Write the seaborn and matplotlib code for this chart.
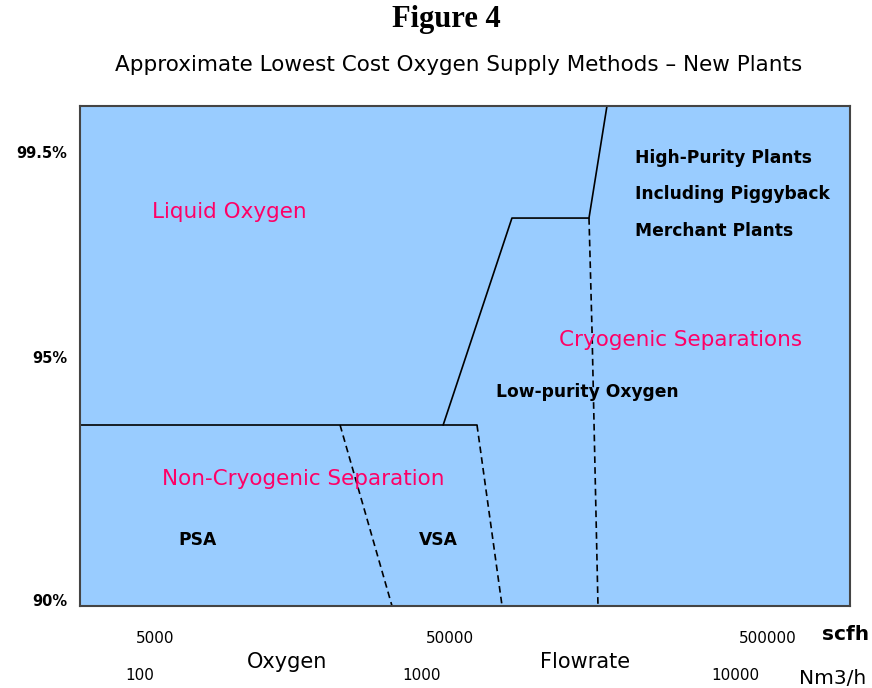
import numpy as np
import pandas as pd
import seaborn as sns
import matplotlib.pyplot as plt

# boundary lines of the regions (x = oxygen flow in scfh, y = purity %)
solid_psa_top_x = [2786, 60800]
solid_psa_top_y = [93.6, 93.6]
solid_lox_x = [47400, 78300, 136800, 155800]
solid_lox_y = [93.6, 98.05, 98.05, 100.6]
dash_psa_x = [21200, 31800]
dash_psa_y = [93.6, 89.8]
dash_vsa_x = [60800, 72900]
dash_vsa_y = [93.6, 89.8]
dash_cryo_x = [136800, 139800, 146000]
dash_cryo_y = [98.05, 95.6, 89.8]

purity_ticks = [90, 95, 99.5]
purity_labels = ['90%', '95%', '99.5%']
scfh_ticks = [5000, 50000, 500000]
scfh_labels = ['5000', '50000', '500000']
nm3_labels = ['100', '1000', '10000']

# schematic (uneven) axes, as in the original sketch
y_anchor = [89.88, 90, 95, 99.5, 100.51]
y_pos = [0, 6, 249, 454, 500]
x_anchor = [3.445, 3.699, 4.699, 5.699, 5.957]
x_pos = [0, 75, 370, 688, 770]


def yfwd(y):
    return np.interp(y, y_anchor, y_pos)


def yinv(p):
    return np.interp(p, y_pos, y_anchor)


def xfwd(x):
    return np.interp(np.log10(np.clip(x, 1e-9, None)), x_anchor, x_pos)


def xinv(p):
    return 10 ** np.interp(p, x_pos, x_anchor)


sns.set_theme(style='white')
plt.rcParams['font.family'] = ['DejaVu Sans']
plt.rcParams['text.color'] = 'black'
plt.rcParams['xtick.color'] = 'black'
plt.rcParams['ytick.color'] = 'black'

fig = plt.figure(figsize=(8.72, 6.88), dpi=100)
ax = fig.add_axes([80 / 872, 1 - 606 / 688, 770 / 872, 500 / 688])
ax.set_facecolor('#99CCFF')
ax.set_xscale('function', functions=(xfwd, xinv))
ax.set_yscale('function', functions=(yfwd, yinv))

lines = [
    (solid_psa_top_x, solid_psa_top_y, '-'),
    (solid_lox_x, solid_lox_y, '-'),
    (dash_psa_x, dash_psa_y, '--'),
    (dash_vsa_x, dash_vsa_y, '--'),
    (dash_cryo_x, dash_cryo_y, '--'),
]
for xs, ys, ls in lines:
    df = pd.DataFrame({'x': xs, 'y': ys})
    sns.lineplot(data=df, x='x', y='y', sort=False, color='black',
                 linewidth=1.2, linestyle=ls, ax=ax)
    if ls == '--':
        ax.lines[-1].set_dashes((4, 2.5))

ax.set_xlim(2786, 905700)
ax.set_ylim(89.88, 100.51)

for sp in ax.spines.values():
    sp.set_color('#444444')
    sp.set_linewidth(1.5)

ax.set_yticks(purity_ticks)
ax.set_yticklabels(purity_labels, fontsize=10.5, fontweight='bold')
ax.tick_params(axis='y', length=0, pad=9)
ax.set_xticks(scfh_ticks)
ax.set_xticklabels(scfh_labels, fontsize=11)
ax.tick_params(axis='x', length=0, pad=18)
ax.minorticks_off()
ax.set_xlabel('')
ax.set_ylabel('')


def fx(px):
    return (px - 80) / 770


def fy(py):
    return (606 - py) / 500


pink = '#FF0066'
ax.text(fx(229), fy(212), 'Liquid Oxygen', color=pink, fontsize=15.5,
        ha='center', va='center', transform=ax.transAxes)
ax.text(fx(681), fy(340), 'Cryogenic Separations', color=pink, fontsize=15.5,
        ha='center', va='center', transform=ax.transAxes)
ax.text(fx(303), fy(479), 'Non-Cryogenic Separation', color=pink, fontsize=15.5,
        ha='center', va='center', transform=ax.transAxes)
ax.text(fx(197), fy(540), 'PSA', fontsize=12.3, fontweight='bold',
        ha='center', va='center', transform=ax.transAxes)
ax.text(fx(438), fy(540), 'VSA', fontsize=12.3, fontweight='bold',
        ha='center', va='center', transform=ax.transAxes)
ax.text(fx(587), fy(392), 'Low-purity Oxygen', fontsize=12.3, fontweight='bold',
        ha='center', va='center', transform=ax.transAxes)
for txt, py in [('High-Purity Plants', 158), ('Including Piggyback', 194),
                ('Merchant Plants', 231)]:
    ax.text(fx(635), fy(py), txt, fontsize=12.3, fontweight='bold',
            ha='left', va='center', transform=ax.transAxes)

fig.text(846 / 872, 1 - 635 / 688, 'scfh', fontsize=14.5, fontweight='bold',
         ha='center', va='center')
fig.text(287 / 872, 1 - 662 / 688, 'Oxygen', fontsize=15,
         ha='center', va='center')
fig.text(585 / 872, 1 - 662 / 688, 'Flowrate', fontsize=15,
         ha='center', va='center')
for lab, px in zip(nm3_labels, [140, 422, 735]):
    fig.text(px / 872, 1 - 676 / 688, lab, fontsize=11,
             ha='center', va='center')
fig.text(833 / 872, 1 - 678 / 688, 'Nm3/h', fontsize=14.5,
         ha='center', va='center')

fig.text(446 / 872, 1 - 20 / 688, 'Figure 4', fontsize=22, fontweight='bold',
         family=['Liberation Serif'], ha='center', va='center')
fig.text(459 / 872, 1 - 65 / 688, 'Approximate Lowest Cost Oxygen Supply Methods \u2013 New Plants',
         fontsize=15.5, ha='center', va='center')

fig.savefig('out.png', dpi=100, facecolor='white')
